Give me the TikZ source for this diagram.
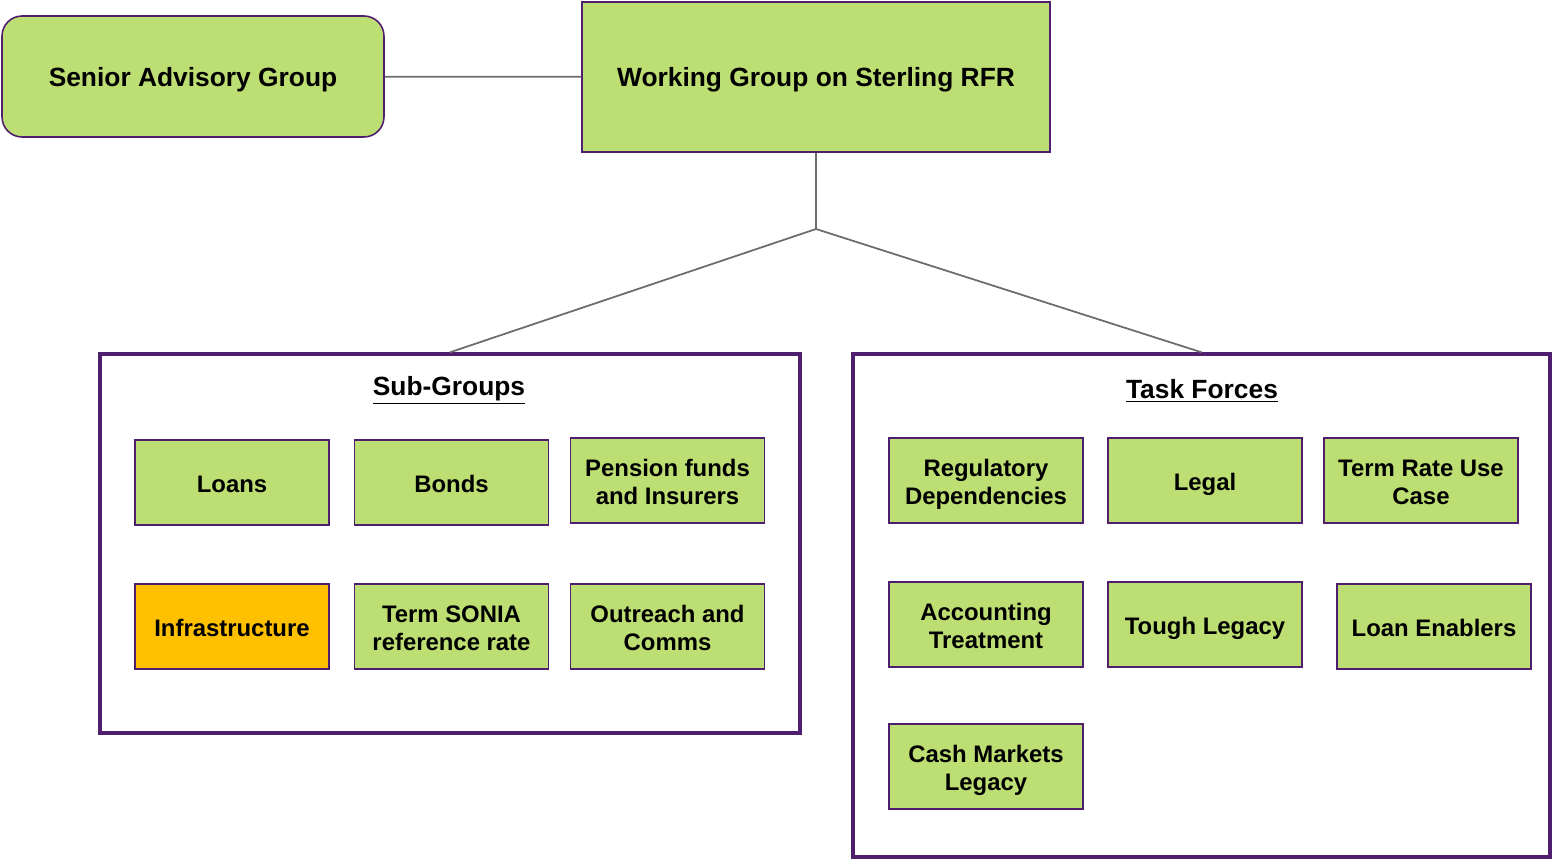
\documentclass[tikz,border=0pt]{standalone}
\usepackage{fontspec}
\setmainfont{Liberation Sans}
\usepackage{tikz}
\usetikzlibrary{arrows,shapes}
\definecolor{leaf}{RGB}{189,222,114}
\definecolor{amber}{RGB}{255,192,0}
\definecolor{plum}{RGB}{80,30,110}
\definecolor{stem}{RGB}{110,106,110}
\newcommand{\linetop}{\rule{0pt}{14.3pt}}
\newcommand{\linebot}{\rule[-3pt]{0pt}{0pt}}
\tikzstyle{group}=[draw=plum,line width=0.9pt,fill=leaf,align=center,inner sep=2pt,font=\fontsize{13.6}{16}\selectfont\bfseries]
\tikzstyle{top group}=[group,font=\fontsize{15}{18}\selectfont\bfseries]
\tikzstyle{frame}=[draw=plum,line width=2pt,fill=none]
\tikzstyle{title}=[font=\fontsize{15}{18}\selectfont\bfseries]
\tikzstyle{link}=[draw=stem,line width=1pt,-]

\begin{document}
\begin{tikzpicture}[x=0.02cm,y=-0.02cm]
    \useasboundingbox (0,0) rectangle (1552,859);
    % Top of the chart
    \node[top group,rounded corners=0.4cm,minimum width=7.64cm,minimum height=2.42cm] (SAG) at (193,76.5) {\linetop Senior Advisory Group\linebot};
    \node[top group,minimum width=9.36cm,minimum height=3cm] (WG) at (816,77) {\linetop Working Group on Sterling RFR\linebot};

    % The two frames and their titles
    \node[frame,minimum width=14cm,minimum height=7.58cm] (SG) at (450,543.5) {};
    \node[frame,minimum width=13.94cm,minimum height=10.06cm] (TF) at (1201.5,605.5) {};
    \node[title] (SGtitle) at (449,390) {\underline{Sub-Groups}};
    \node[title] (TFtitle) at (1202,391) {\underline{Task Forces}};

    % Boxes inside the frames
    \foreach \pos/\name/\text in {{(232,482.5)/Loans/Loans}, {(451.5,482.5)/Bonds/Bonds},
        {(667.5,480.5)/Pension/{Pension funds\\and Insurers}},
        {(451.5,626.5)/SONIA/{Term SONIA\\reference rate}}, {(667.5,626.5)/Outreach/{Outreach and\\Comms}},
        {(986,480.5)/Regulatory/{Regulatory\\Dependencies}}, {(1205,480.5)/Legal/Legal},
        {(1421,480.5)/TermRate/{Term Rate Use\\Case}}, {(986,624.5)/Accounting/{Accounting\\Treatment}},
        {(1205,624.5)/Tough/{Tough Legacy}}, {(1434,626.5)/Enablers/{Loan Enablers}},
        {(986,766.5)/Cash/{Cash Markets\\Legacy}}}
        \node[group,minimum width=3.88cm,minimum height=1.7cm] (\name) at \pos {\linetop\text\linebot};

    \node[group,fill=amber,minimum width=3.88cm,minimum height=1.7cm] (Infra) at (232,626.5) {\linetop Infrastructure\linebot};

    % Connect the groups
    \coordinate (fork) at (816,229);
    \path[link] (SAG) -- (WG);
    \path[link] (WG.south) -- (fork);
    \foreach \dest in {SG, TF}
        \path[link] (fork) -- (\dest.north);

\end{tikzpicture}
\end{document}
